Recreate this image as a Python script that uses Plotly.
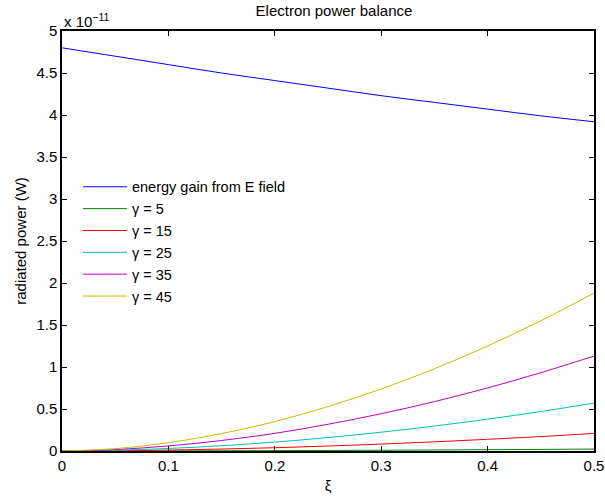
import plotly.graph_objects as go

xi = [0.0, 0.05, 0.1, 0.15, 0.2, 0.25, 0.3, 0.35, 0.4, 0.45, 0.5]

# values in units of 1e-11 W
energy_gain = [4.80, 4.70, 4.60, 4.50, 4.41, 4.32, 4.23, 4.15, 4.07, 3.99, 3.92]
gamma_5 = [0, 0.0003, 0.0012, 0.0026, 0.0043, 0.0065, 0.0091, 0.012, 0.0154, 0.019, 0.023]
gamma_15 = [0, 0.0031, 0.011, 0.023, 0.039, 0.059, 0.082, 0.109, 0.139, 0.172, 0.209]
gamma_25 = [0, 0.0084, 0.030, 0.063, 0.106, 0.160, 0.224, 0.297, 0.379, 0.470, 0.57]
gamma_35 = [0, 0.017, 0.060, 0.125, 0.21, 0.318, 0.444, 0.588, 0.751, 0.932, 1.13]
gamma_45 = [0, 0.028, 0.099, 0.208, 0.35, 0.529, 0.738, 0.979, 1.25, 1.55, 1.88]

names = ["energy gain from E field", "γ = 5", "γ = 15", "γ = 25", "γ = 35", "γ = 45"]
series = [energy_gain, gamma_5, gamma_15, gamma_25, gamma_35, gamma_45]
colors = ["#0000ff", "#008000", "#ff0000", "#00bfbf", "#bf00bf", "#bfbf00"]

y_ticks = [0, 0.5, 1, 1.5, 2, 2.5, 3, 3.5, 4, 4.5, 5]
y_ticklabels = ["0", "0.5", "1", "1.5", "2", "2.5", "3", "3.5", "4", "4.5", "5"]
x_ticks = [0, 0.1, 0.2, 0.3, 0.4, 0.5]
x_ticklabels = ["0", "0.1", "0.2", "0.3", "0.4", "0.5"]

fig = go.Figure()
for n, s, c in zip(names, series, colors):
    fig.add_trace(go.Scatter(x=xi, y=s, mode="lines", name=n,
                             line=dict(color=c, width=1, shape="spline")))

font = "Liberation Sans, Arial, Helvetica, sans-serif"
fig.update_layout(
    width=605, height=496,
    margin=dict(l=62, r=11, t=31, b=45, autoexpand=False),
    paper_bgcolor="white", plot_bgcolor="white",
    font=dict(family=font, size=15, color="black"),
    title=dict(text="Electron power balance", x=0.552, xanchor="center",
               y=0.988, yanchor="top", font=dict(size=15)),
    showlegend=True,
    legend=dict(x=0.03, y=0.667, xanchor="left", yanchor="top",
                bgcolor="rgba(0,0,0,0)", borderwidth=0, itemwidth=44,
                font=dict(size=14.5)),
    xaxis=dict(range=[0, 0.5], tickvals=x_ticks, ticktext=x_ticklabels,
               ticks="inside", ticklen=5, tickcolor="black", automargin=False,
               ticklabeloverflow="allow",
               showline=True, linecolor="black", linewidth=1.5, mirror="ticks",
               showgrid=False, zeroline=False,
               title=dict(text="ξ", standoff=8, font=dict(size=15))),
    yaxis=dict(range=[0, 5], tickvals=y_ticks, ticktext=y_ticklabels,
               ticks="inside", ticklen=5, tickcolor="black", automargin=False,
               ticklabeloverflow="allow",
               showline=True, linecolor="black", linewidth=1.5, mirror="ticks",
               showgrid=False, zeroline=False,
               title=dict(text="radiated power (W)", standoff=6, font=dict(size=15))),
)
fig.add_annotation(text="x 10<sup>−11</sup>", xref="paper", yref="paper",
                   x=0.0, y=1.0, xanchor="left", yanchor="bottom",
                   showarrow=False, font=dict(size=15), yshift=-1)

fig.write_html("out.html")
